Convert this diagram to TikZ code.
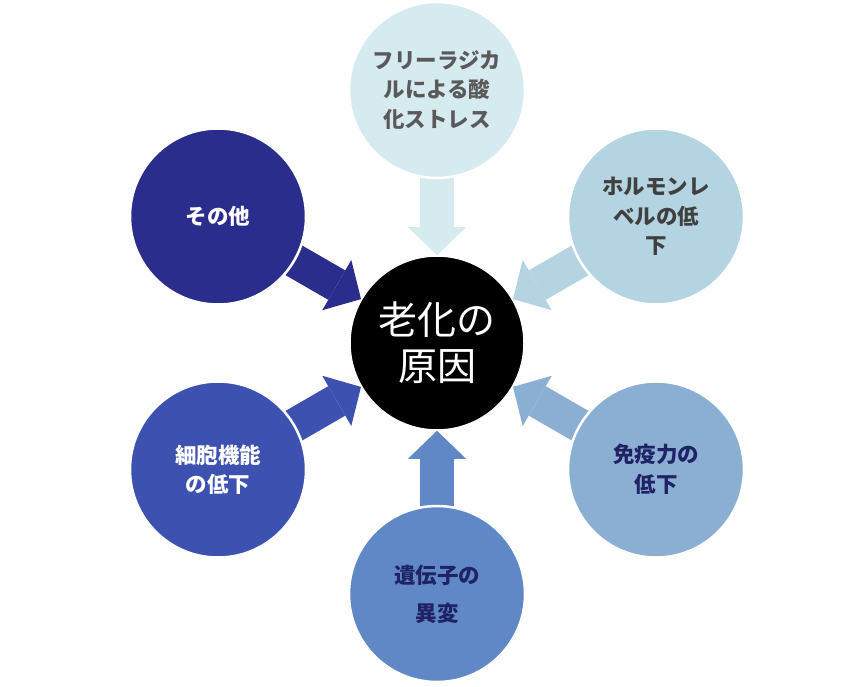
\documentclass[tikz,border=0pt]{standalone}
\usepackage{fontspec}
\setmainfont{Noto Sans CJK JP}
\usetikzlibrary{arrows.meta,backgrounds}
\definecolor{cTop}{HTML}{D6EBF0}
\definecolor{cTR}{HTML}{B4D4E1}
\definecolor{cBR}{HTML}{8BAFD2}
\definecolor{cB}{HTML}{6188C6}
\definecolor{cBL}{HTML}{3D52B0}
\definecolor{cTL}{HTML}{2B2D8C}
\definecolor{tGray}{HTML}{5A5A5A}
\definecolor{tDark}{HTML}{404040}
\definecolor{tNavy}{HTML}{1F2366}
\begin{document}
\begin{tikzpicture}[x=1pt,y=1pt,
  outer/.style={circle,minimum size=176pt,inner sep=0pt,draw=white,line width=2.5pt,
    align=center,font=\fontsize{21.5}{29.5}\selectfont\bfseries},
  arr/.style={line width=34pt,line cap=butt,shorten <=-14pt,
    -{Triangle[width=58pt,length=28pt,line width=0pt]}}]
\useasboundingbox (0,0) rectangle (856,686);
\node[circle,minimum size=174pt,inner sep=0pt,fill=black,draw=white,line width=1.5pt,
  text=white,align=center,font=\fontsize{39}{46}\selectfont] (c) at (437,343) {老化の\\原因};
\node[outer,fill=cTop,text=tGray] (t) at (437,596) {フリーラジカ\\ルによる酸\\化ストレス};
\node[outer,fill=cTR,text=tDark] (tr) at (656,469.5) {ホルモンレ\\ベルの低\\下};
\node[outer,fill=cBR,text=tNavy] (br) at (656,216.5) {免疫力の\\低下};
\node[outer,fill=cB,text=tNavy,font=\fontsize{21.5}{38}\selectfont\bfseries] (b) at (437,92) {遺伝子の\\異変};
\node[outer,fill=cBL,text=white] (bl) at (218,216.5) {細胞機能\\の低下};
\node[outer,fill=cTL,text=white] (tl) at (218,469.5) {その他};
\begin{pgfonlayer}{background}
\draw[arr,cTop] (t) -- (c);
\draw[arr,cTR] (tr) -- (c);
\draw[arr,cBR] (br) -- (c);
\draw[arr,cB] (b) -- (c);
\draw[arr,cBL] (bl) -- (c);
\draw[arr,cTL] (tl) -- (c);
\end{pgfonlayer}
\end{tikzpicture}
\end{document}
